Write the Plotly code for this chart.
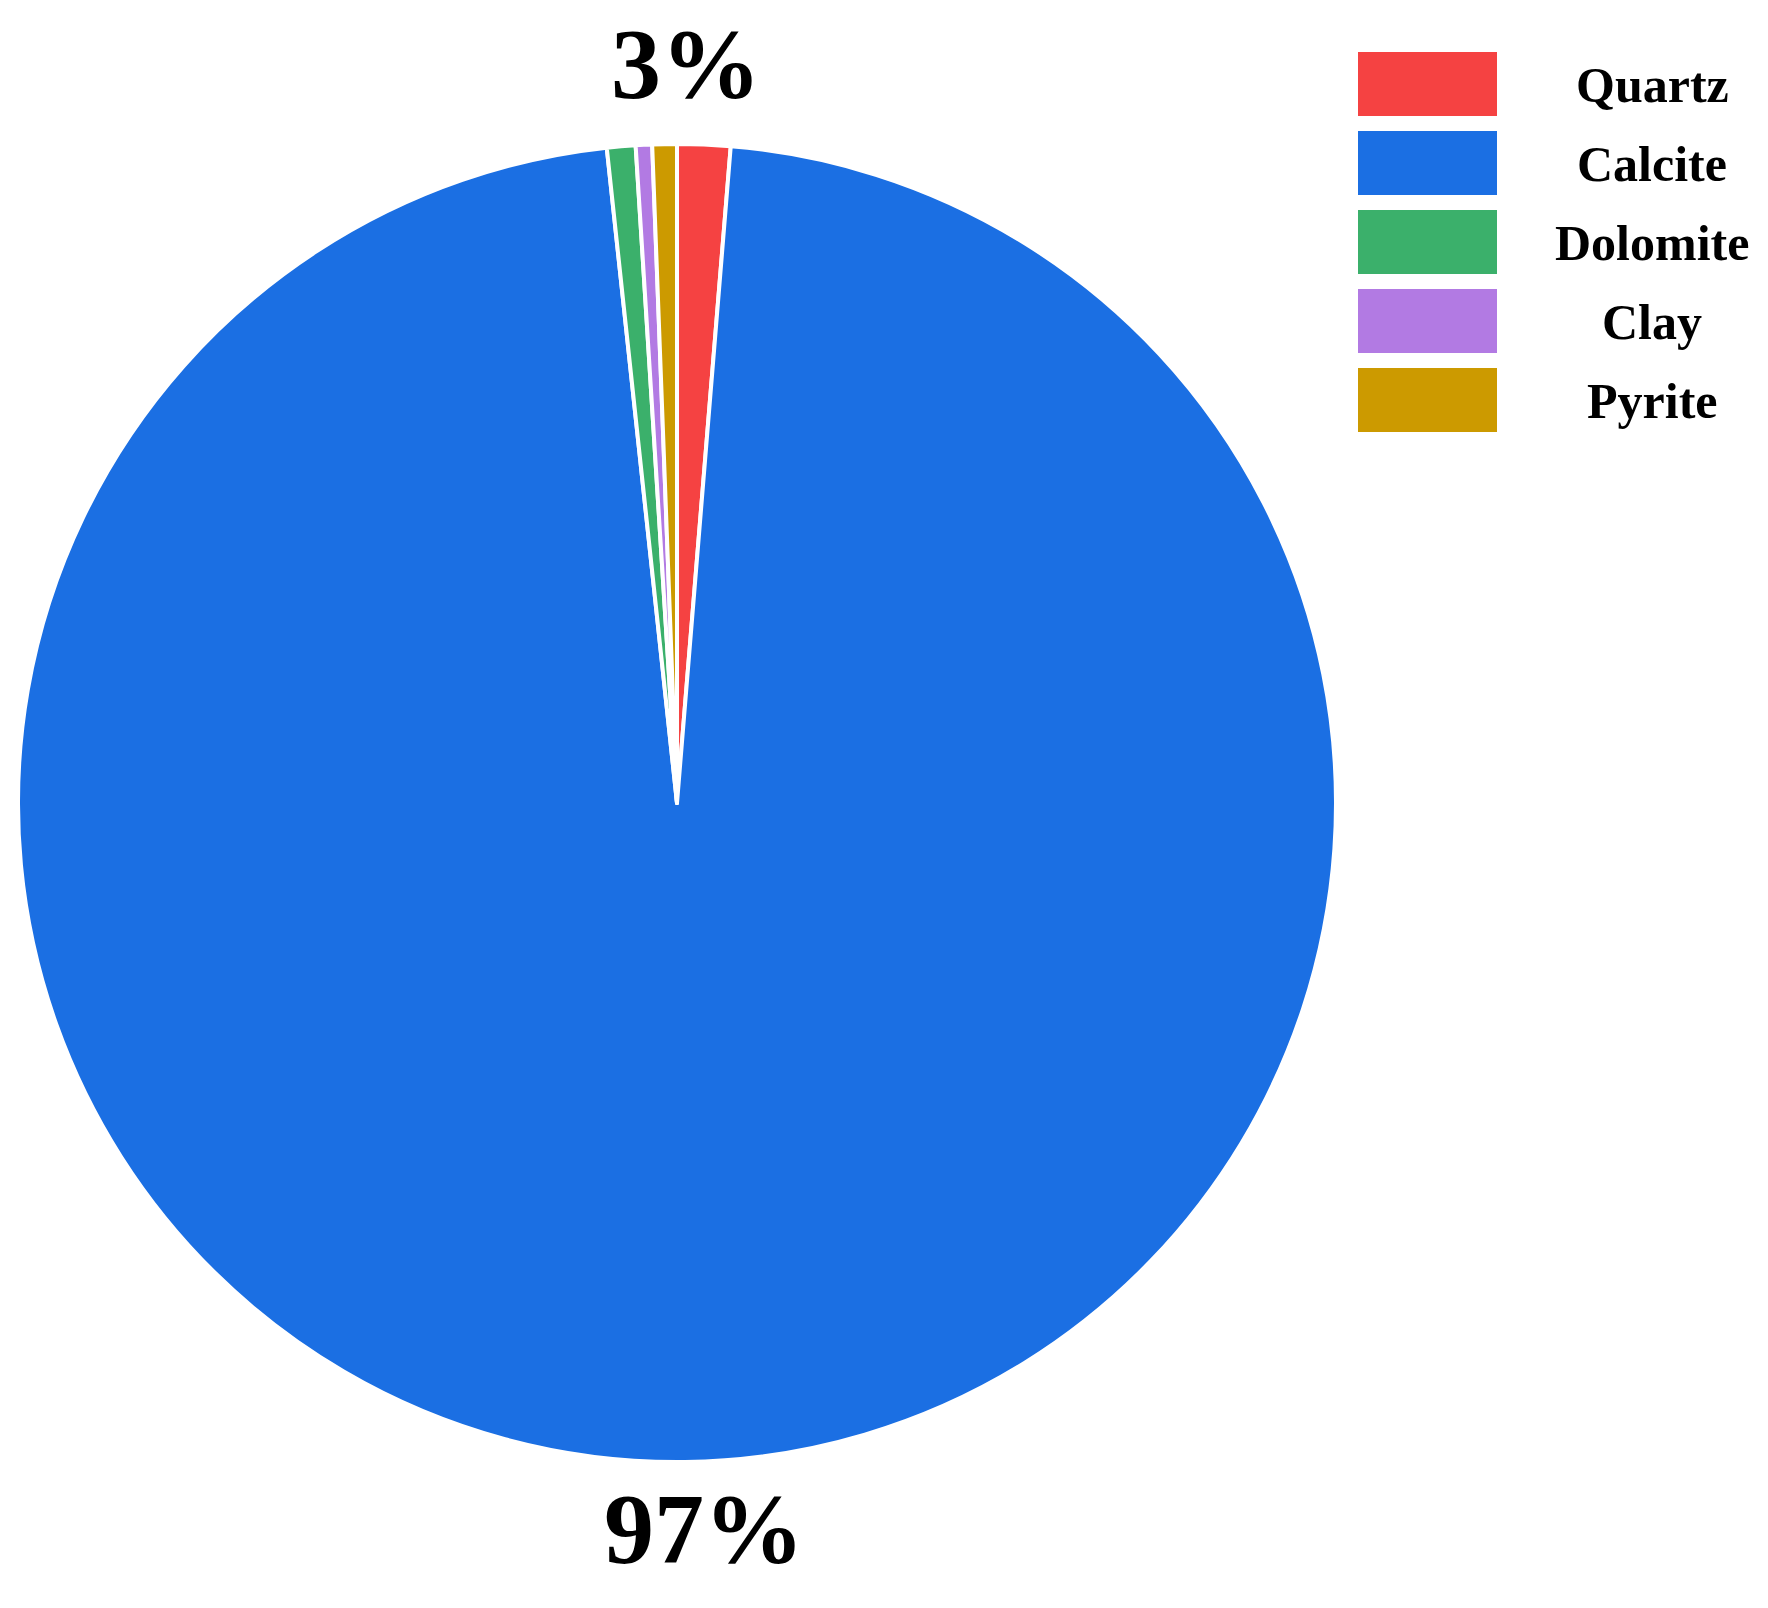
import plotly.graph_objects as go

# mineral composition (%)
minerals = ['Quartz', 'Calcite', 'Dolomite', 'Clay', 'Pyrite']
shares = [1.3, 97.0, 0.7, 0.4, 0.6]
colors = ['#F54242', '#1B6FE3', '#3BB06B', '#B27AE3', '#CC9A00']

W, H = 1768, 1608
OFF = 8  # page body margin pushes the plot by 8px


def px(x):
    return (x - OFF) / W


def py(y):
    return 1 - (y - OFF) / H


fig = go.Figure(go.Pie(
    labels=minerals,
    values=shares,
    marker=dict(colors=colors, line=dict(color='white', width=4)),
    sort=False,
    direction='clockwise',
    rotation=0,
    textinfo='none',
    hoverinfo='label+percent',
    showlegend=False,
    domain=dict(x=[px(18), px(1336)], y=[py(1462), py(144)]),
))

total = sum(shares)
calcite_pct = round(100 * shares[minerals.index('Calcite')] / total)
other_pct = 100 - calcite_pct

label_font = dict(family='Liberation Serif, Times New Roman, serif', size=100, color='black')
fig.add_annotation(x=px(686), y=py(64), xref='paper', yref='paper',
                   text=f'<b>{other_pct}%</b>', showarrow=False, font=label_font,
                   xanchor='center', yanchor='middle')
fig.add_annotation(x=px(704), y=py(1528), xref='paper', yref='paper',
                   text=f'<b>{calcite_pct}%</b>', showarrow=False, font=label_font,
                   xanchor='center', yanchor='middle')

# hand-drawn legend to the right
for i, (name, color) in enumerate(zip(minerals, colors)):
    top = 52 + i * 79
    fig.add_shape(type='rect', xref='paper', yref='paper',
                  x0=px(1358), x1=px(1497),
                  y0=py(top + 64), y1=py(top),
                  fillcolor=color, line=dict(width=0))
    fig.add_annotation(x=px(1652), y=py(top + 33), xref='paper', yref='paper',
                       text=f'<b>{name}</b>', showarrow=False,
                       font=dict(family='Liberation Serif, Times New Roman, serif', size=50, color='black'),
                       xanchor='center', yanchor='middle')

fig.update_layout(
    width=W, height=H,
    margin=dict(l=0, r=0, t=0, b=0),
    paper_bgcolor='white',
    plot_bgcolor='white',
)

fig.write_html("out.html")
